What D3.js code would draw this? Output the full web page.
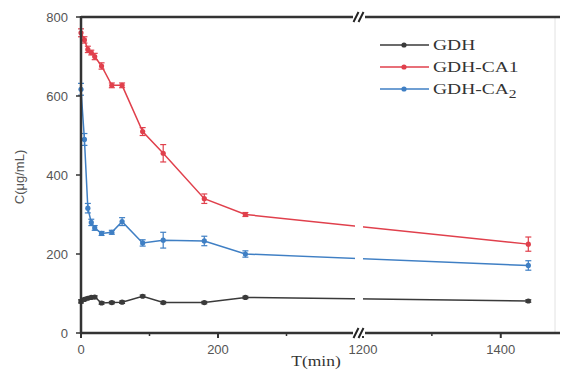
<!DOCTYPE html>
<html>
<head>
<meta charset="utf-8">
<script src="https://cdnjs.cloudflare.com/ajax/libs/d3/7.8.5/d3.min.js"></script>
<style>
  body { margin: 0; background: #fff; }
  svg { display: block; }
</style>
</head>
<body>
<div id="chart"></div>
<script>
// time points (min)
const times = [0, 5, 10, 15, 20, 30, 45, 60, 90, 120, 180, 240, 1440];

const gdh     = [80, 85, 88, 90, 91, 76, 77, 78, 93, 77, 77, 90, 81];
const gdhErr  = [4, 3, 3, 3, 3, 3, 3, 3, 3, 3, 3, 3, 3];
const ca1     = [760, 742, 718, 710, 700, 676, 627, 627, 510, 455, 340, 300, 225];
const ca1Err  = [10, 8, 8, 6, 8, 8, 6, 6, 10, 22, 12, 5, 18];
const ca2     = [617, 490, 316, 280, 266, 252, 255, 282, 228, 235, 233, 200, 171];
const ca2Err  = [15, 15, 12, 8, 6, 5, 5, 10, 8, 20, 12, 8, 12];

const yTicks = [0, 200, 400, 600, 800];
const xTicksLeft = [0, 100, 200, 300];
const xTicksRight = [1200, 1300, 1400];
const xLabelled = [0, 200, 1200, 1400];

const seriesNames = ["GDH", "GDH-CA1", "GDH-CA2"];
const colors = ["#3a3a3a", "#e0404c", "#3f7fc4"];

const W = 561, H = 371;
const mLeft = 81, mTop = 17, mBottom = 333, mRight = 560;

const svg = d3.select("#chart").append("svg")
  .attr("width", W).attr("height", H);

// broken x scale
const xL = d3.scaleLinear().domain([0, 400]).range([mLeft, 355]);
const xR = d3.scaleLinear().domain([1200, 1486]).range([363, mRight]);
const x = t => t <= 400 ? xL(t) : xR(t);
const y = d3.scaleLinear().domain([0, 800]).range([mBottom, mTop]);

// right frame (faint)
svg.append("line")
  .attr("x1", 555).attr("x2", 555).attr("y1", mTop).attr("y2", mBottom)
  .attr("stroke", "#e2e2e2").attr("stroke-width", 1);

const allSeries = [
  { vals: gdh, err: gdhErr },
  { vals: ca1, err: ca1Err },
  { vals: ca2, err: ca2Err }
];

const line = d3.line().x(d => x(d[0])).y(d => y(d[1]));

allSeries.forEach((s, k) => {
  const pts = times.map((t, i) => [t, s.vals[i], s.err[i]]);
  const g = svg.append("g");
  g.append("path")
    .datum(pts)
    .attr("fill", "none")
    .attr("stroke", colors[k])
    .attr("stroke-width", 1.5)
    .attr("d", line);
  // error bars
  pts.forEach(p => {
    const cx = x(p[0]);
    g.append("line").attr("x1", cx).attr("x2", cx)
      .attr("y1", y(p[1] - p[2])).attr("y2", y(p[1] + p[2]))
      .attr("stroke", colors[k]).attr("stroke-width", 1.2);
    [p[1] - p[2], p[1] + p[2]].forEach(v => {
      g.append("line").attr("x1", cx - 3).attr("x2", cx + 3)
        .attr("y1", y(v)).attr("y2", y(v))
        .attr("stroke", colors[k]).attr("stroke-width", 1.2);
    });
  });
  g.selectAll("circle").data(pts).enter().append("circle")
    .attr("cx", d => x(d[0])).attr("cy", d => y(d[1]))
    .attr("r", 2.6).attr("fill", colors[k]);
});

// gap for the axis break
svg.append("rect")
  .attr("x", 355).attr("y", mTop + 2).attr("width", 8).attr("height", mBottom - mTop - 4)
  .attr("fill", "#fff");

// axes
const axisCol = "#333";
svg.append("line").attr("x1", mLeft).attr("x2", mRight).attr("y1", mBottom).attr("y2", mBottom)
  .attr("stroke", axisCol).attr("stroke-width", 2.5);
svg.append("line").attr("x1", mLeft).attr("x2", mRight).attr("y1", mTop).attr("y2", mTop)
  .attr("stroke", axisCol).attr("stroke-width", 2.5);
svg.append("line").attr("x1", mLeft).attr("x2", mLeft).attr("y1", mTop - 1).attr("y2", mBottom + 1)
  .attr("stroke", axisCol).attr("stroke-width", 2.5);

// y ticks
yTicks.forEach(v => {
  svg.append("line").attr("x1", mLeft - 5).attr("x2", mLeft).attr("y1", y(v)).attr("y2", y(v))
    .attr("stroke", axisCol).attr("stroke-width", 1.5);
  svg.append("text").attr("x", mLeft - 13).attr("y", y(v) + 4.5)
    .attr("text-anchor", "end")
    .attr("font-family", "Liberation Sans, Arial, sans-serif")
    .attr("font-size", 13).attr("fill", "#555")
    .text(v);
});

// x ticks
xTicksLeft.concat(xTicksRight).forEach(v => {
  const major = xLabelled.includes(v);
  svg.append("line").attr("x1", x(v)).attr("x2", x(v))
    .attr("y1", mBottom).attr("y2", mBottom + (major ? 5 : 3))
    .attr("stroke", axisCol).attr("stroke-width", major ? 2 : 1.5);
  if (major) {
    svg.append("text").attr("x", x(v)).attr("y", mBottom + 21)
      .attr("text-anchor", "middle")
      .attr("font-family", "Liberation Sans, Arial, sans-serif")
      .attr("font-size", 13).attr("fill", "#555")
      .text(v);
  }
});

// break marks
[mTop, mBottom].forEach(yy => {
  svg.append("rect").attr("x", 353).attr("y", yy - 3).attr("width", 12).attr("height", 6)
    .attr("fill", "#fff");
  [353.5, 358.5].forEach(bx => {
    svg.append("line").attr("x1", bx).attr("x2", bx + 5).attr("y1", yy + 5).attr("y2", yy - 5)
      .attr("stroke", "#222").attr("stroke-width", 2);
  });
});

// axis labels
svg.append("text")
  .attr("transform", `translate(24, 177) rotate(-90)`)
  .attr("text-anchor", "middle")
  .attr("font-family", "Liberation Sans, Arial, sans-serif")
  .attr("font-size", 13).attr("fill", "#555")
  .text("C(μg/mL)");

svg.append("text")
  .attr("transform", "translate(316, 366) scale(1.25, 1)")
  .attr("text-anchor", "middle")
  .attr("font-family", "Liberation Serif, Times New Roman, serif")
  .attr("font-size", 14).attr("fill", "#333")
  .text("T(min)");

// legend
const legendY = [45, 67, 89];
seriesNames.forEach((name, k) => {
  const ly = legendY[k];
  svg.append("line").attr("x1", 380).attr("x2", 429).attr("y1", ly).attr("y2", ly)
    .attr("stroke", colors[k]).attr("stroke-width", 1.5);
  svg.append("circle").attr("cx", 404).attr("cy", ly).attr("r", 2.6).attr("fill", colors[k]);
  const t = svg.append("text")
    .attr("transform", `translate(433, ${ly + 5}) scale(1.3, 1)`)
    .attr("font-family", "Liberation Serif, Times New Roman, serif")
    .attr("font-size", 15).attr("fill", "#333");
  if (name === "GDH-CA2") {
    t.append("tspan").text("GDH-CA");
    t.append("tspan").attr("dy", 4).attr("font-size", 12).text("2");
  } else {
    t.text(name);
  }
});
</script>
</body>
</html>
